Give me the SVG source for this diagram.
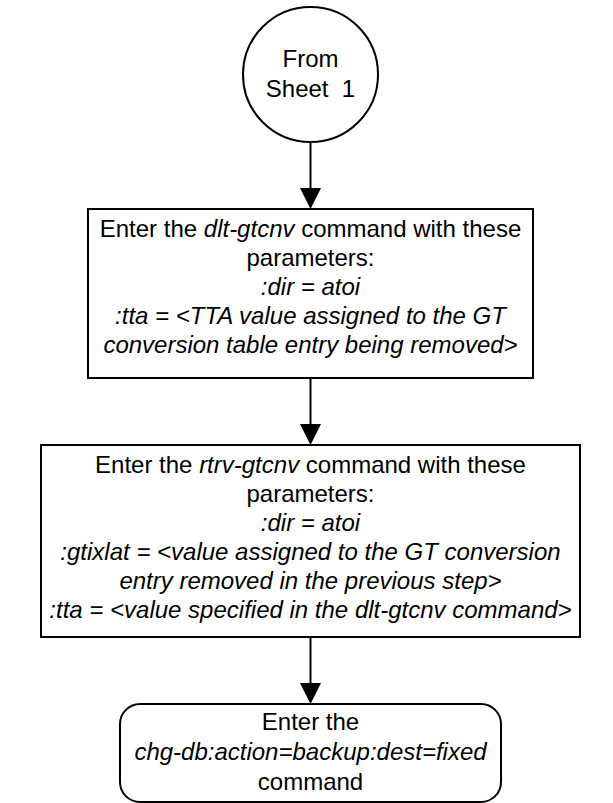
<svg xmlns="http://www.w3.org/2000/svg" width="613" height="803" viewBox="0 0 613 803">
<style>
.shape{fill:#fff;stroke:#000;stroke-width:2}
.t{font-family:"Liberation Sans",Arial,sans-serif;font-size:24px;fill:#000;text-anchor:middle}
.i{font-style:italic}
.c{stroke:#000;stroke-width:2;fill:none}
.ah{fill:#000}
</style>
<rect width="613" height="803" fill="#fff"/>
<g id="connectors">
<line class="c" x1="310.5" y1="142" x2="310.5" y2="190"/>
<polygon class="ah" points="300,188 321,188 310.5,209"/>
<line class="c" x1="310.5" y1="378" x2="310.5" y2="426"/>
<polygon class="ah" points="300,424 321,424 310.5,445"/>
<line class="c" x1="310.5" y1="637" x2="310.5" y2="685"/>
<polygon class="ah" points="300,683 321,683 310.5,704"/>
</g>
<g id="start">
<circle class="shape" cx="310.5" cy="74.5" r="67.5"/>
<text class="t" x="310.5" y="67">From</text>
<text class="t" x="310.5" y="97" xml:space="preserve">Sheet  1</text>
</g>
<g id="step1">
<rect class="shape" x="88" y="209" width="445" height="169"/>
<text class="t" x="310.5" y="237">Enter the <tspan class="i">dlt-gtcnv</tspan> command with these</text>
<text class="t" x="310.5" y="266">parameters:</text>
<text class="t i" x="310.5" y="295">:dir = atoi</text>
<text class="t i" x="310.5" y="324">:tta = &lt;TTA value assigned to the GT</text>
<text class="t i" x="310.5" y="353">conversion table entry being removed&gt;</text>
</g>
<g id="step2">
<rect class="shape" x="41" y="445" width="539" height="192"/>
<text class="t" x="310.5" y="473">Enter the <tspan class="i">rtrv-gtcnv</tspan> command with these</text>
<text class="t" x="310.5" y="502">parameters:</text>
<text class="t i" x="310.5" y="531">:dir = atoi</text>
<text class="t i" x="310.5" y="560">:gtixlat = &lt;value assigned to the GT conversion</text>
<text class="t i" x="310.5" y="589">entry removed in the previous step&gt;</text>
<text class="t i" x="310.5" y="618">:tta = &lt;value specified in the dlt-gtcnv command&gt;</text>
</g>
<g id="step3">
<rect class="shape" x="120" y="704" width="381" height="98" rx="20" ry="20"/>
<text class="t" x="310.5" y="730">Enter the</text>
<text class="t i" x="310.5" y="760">chg-db:action=backup:dest=fixed</text>
<text class="t" x="310.5" y="790">command</text>
</g>
</svg>
